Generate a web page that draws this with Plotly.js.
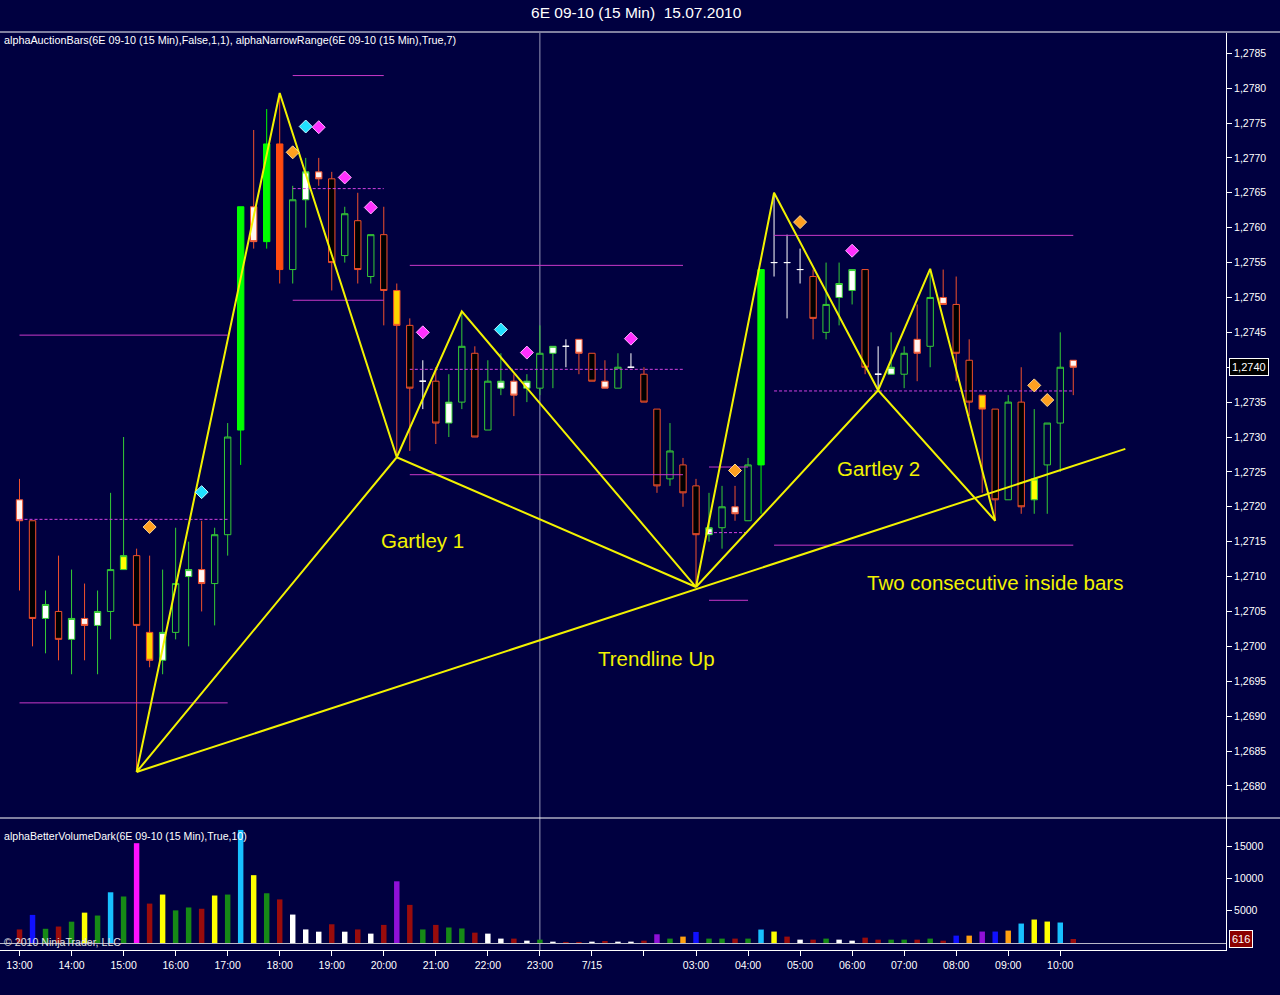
<!DOCTYPE html>
<html><head><meta charset="utf-8">
<script src="https://cdn.plot.ly/plotly-3.0.1.min.js"></script>
<style>html,body{margin:0;padding:0;background:#000040;}#chart{width:1280px;height:995px;}</style>
</head><body><div id="chart"></div>
<script>
// ---- price bars (15 min), index 0 = 13:00 on 14.07.2010 ----
const openP  = [1.2721,1.2718,1.2704,1.2705,1.2701,1.2704,1.2703,1.2705,1.2711,1.2713,
                1.2702,1.2698,1.2702,1.2710,1.2711,1.2709,1.2716,1.2731,1.2763,1.2758,
                1.2772,1.2754,1.2764,1.2768,1.2767,1.2756,1.2761,1.2753,1.2759,1.2751,
                1.2746,1.2738,1.2738,1.2732,1.2735,1.2742,1.2731,1.2737,1.2738,1.2737,
                1.2737,1.2742,1.2743,1.2744,1.2742,1.2738,1.2737,1.2740,1.2739,1.2734,
                1.2724,1.2726,1.2723,1.2716,1.2717,1.2720,1.2718,1.2726,1.2755,1.2755,
                1.2754,1.2753,1.2745,1.2750,1.2751,1.2754,1.2739,1.2739,1.2739,1.2744,
                1.2743,1.2750,1.2749,1.2741,1.2736,1.2734,1.2721,1.2735,1.2721,1.2726,
                1.2732,1.2741];
const highP  = [1.2724,1.2718,1.2708,1.2713,1.2711,1.2709,1.2708,1.2722,1.2730,1.2714,
                1.2713,1.2711,1.2717,1.2715,1.2718,1.2717,1.2732,1.2763,1.2774,1.2777,
                1.2779,1.2766,1.2770,1.2770,1.2768,1.2763,1.2765,1.2759,1.2763,1.2752,
                1.2747,1.2741,1.2740,1.2739,1.2748,1.2743,1.2741,1.2742,1.2739,1.2739,
                1.2746,1.2743,1.2744,1.2744,1.2742,1.2741,1.2742,1.2742,1.2740,1.2734,
                1.2732,1.2727,1.2724,1.2722,1.2723,1.2723,1.2727,1.2754,1.2765,1.2759,
                1.2757,1.2754,1.2755,1.2755,1.2754,1.2754,1.2743,1.2745,1.2743,1.2749,
                1.2754,1.2754,1.2753,1.2744,1.2736,1.2734,1.2736,1.2740,1.2734,1.2732,
                1.2745,1.2741];
const lowP   = [1.2708,1.2700,1.2699,1.2698,1.2696,1.2698,1.2696,1.2701,1.2711,1.2682,
                1.2697,1.2696,1.2701,1.2700,1.2705,1.2703,1.2713,1.2726,1.2757,1.2757,
                1.2752,1.2752,1.2760,1.2766,1.2751,1.2755,1.2752,1.2752,1.2746,1.2727,
                1.2728,1.2734,1.2729,1.2730,1.2734,1.2730,1.2731,1.2736,1.2733,1.2735,
                1.2736,1.2737,1.2740,1.2739,1.2738,1.2737,1.2737,1.2740,1.2735,1.2722,
                1.2723,1.2720,1.27085,1.2715,1.2714,1.2718,1.2718,1.2719,1.2753,1.2747,
                1.2752,1.2744,1.2744,1.2746,1.2749,1.2739,1.2737,1.2739,1.2737,1.2738,
                1.2740,1.2749,1.2738,1.2733,1.2722,1.2718,1.2721,1.2719,1.2719,1.2719,
                1.2725,1.2736];
const closeP = [1.2718,1.2704,1.2706,1.2701,1.2704,1.2703,1.2705,1.2711,1.2713,1.2703,
                1.2698,1.2702,1.2709,1.2711,1.2709,1.2716,1.2730,1.2763,1.2758,1.2772,
                1.2754,1.2764,1.2768,1.2767,1.2755,1.2762,1.2754,1.2759,1.2751,1.2746,
                1.2737,1.2738,1.2732,1.2735,1.2743,1.2730,1.2738,1.2738,1.2736,1.2738,
                1.2742,1.2743,1.2743,1.2742,1.2738,1.2737,1.2740,1.2740,1.2735,1.2723,
                1.2728,1.2722,1.2716,1.2717,1.2720,1.2719,1.2726,1.2754,1.2755,1.2755,
                1.2754,1.2747,1.2749,1.2752,1.2754,1.2740,1.2739,1.2740,1.2742,1.2742,
                1.2750,1.2749,1.2742,1.2735,1.2734,1.2721,1.2735,1.2720,1.2724,1.2732,
                1.2740,1.2740];
// bar painting from alphaAuctionBars
const barStyle = ['WR','BR','WG','BR','WG','WR','WG','HG','YG','BR',
                  'YR','WG','HG','WG','WR','HG','HG','SG','WR','SG',
                  'SR','HG','WG','WR','BR','HG','BR','HG','BR','YR',
                  'BR','WD','BR','WG','HG','BR','HG','WG','WR','WG',
                  'HG','WG','WD','WR','BR','WR','HG','WD','BR','BR',
                  'HG','BR','BR','WG','HG','WR','HG','SG','WD','WD',
                  'WD','BR','HG','WG','WG','BR','WD','WG','HG','WR',
                  'HG','WR','BR','BR','YR','BR','HG','BR','YG','HG',
                  'HG','WR'];
// ---- volume ----
const volume = [2100,4350,2200,2550,3300,4700,4250,7850,7200,15450,
                6100,7500,5050,5500,5300,7350,7500,17500,10500,7700,
                6750,4400,2100,1750,2900,1750,2100,1450,2800,9550,
                5900,2100,2800,2400,2250,1600,1450,680,680,360,
                520,210,160,160,210,310,210,210,360,1350,
                680,990,1710,680,680,680,680,2080,1770,990,
                520,520,680,520,360,830,520,520,520,520,
                680,360,1140,1140,1770,1770,1920,3010,3630,3320,
                3170,616];
const volClass = ['DR','BL','GR','DR','GR','YE','GR','CY','GR','MA',
                  'DR','YE','GR','GR','DR','YE','GR','CY','YE','GR',
                  'DR','WH','WH','WH','DR','WH','DR','WH','DR','PU',
                  'DR','GR','DR','GR','GR','DR','WH','WH','DR','WH',
                  'GR','WH','DR','DR','WH','DR','WH','WH','DR','PU',
                  'GR','OR','BL','GR','GR','DR','GR','CY','YE','DR',
                  'WH','DR','GR','WH','WH','DR','DR','GR','GR','DR',
                  'GR','DR','BL','OR','PU','BL','OR','CY','YE','YE',
                  'CY','DR'];
// ---- axis ticks ----
const timeTickIdx  = [0,4,8,12,16,20,24,28,32,36,40,44,48,52,56,60,64,68,72,76,80];
const timeTickText = ['13:00','14:00','15:00','16:00','17:00','18:00','19:00','20:00','21:00','22:00','23:00','7/15','','03:00','04:00','05:00','06:00','07:00','08:00','09:00','10:00'];
const priceTicks = [1.2680,1.2685,1.2690,1.2695,1.2700,1.2705,1.2710,1.2715,1.2720,1.2725,1.2730,1.2735,1.2740,1.2745,1.2750,1.2755,1.2760,1.2765,1.2770,1.2775,1.2780,1.2785];
const priceTickText = ['1,2680','1,2685','1,2690','1,2695','1,2700','1,2705','1,2710','1,2715','1,2720','1,2725','1,2730','1,2735','','1,2745','1,2750','1,2755','1,2760','1,2765','1,2770','1,2775','1,2780','1,2785'];
const volTicks = [5000,10000,15000];
const volTickText = ['5000','10000','15000'];
// ---- narrow range levels: [fromBar, toBar, price, dashed] ----
const nrFrom  = [0,0,0, 21,21,21, 30,30,30, 53,53,53, 58,58,58];
const nrTo    = [16,16,16, 28,28,28, 51,51,51, 56,56,56, 81,81,81];
const nrPrice = [1.27446,1.27182,1.26919, 1.27818,1.27656,1.27496, 1.27546,1.27397,1.27246, 1.27257,1.27163,1.27066, 1.27589,1.27366,1.27145];
const nrDash  = [0,1,0, 0,1,0, 0,1,0, 0,1,0, 0,1,0];
// ---- signal diamonds ----
const dOrangeX = [10,21,55,60,78,79];
const dOrangeY = [1.27171,1.27708,1.27252,1.27608,1.27374,1.27353];
const dCyanX = [14,22,37];
const dCyanY = [1.27221,1.27745,1.27454];
const dMagX = [23,25,27,31,39,47,64];
const dMagY = [1.27744,1.27672,1.27629,1.27450,1.27421,1.27441,1.27567];
// ---- drawn patterns ----
const g1X = [9,20,29,34,52,29,9];
const g1Y = [1.2682,1.27793,1.27271,1.2748,1.27085,1.27271,1.2682];
const g2X = [52,58,66,70,75,66,52];
const g2Y = [1.27085,1.2765,1.27367,1.27541,1.2718,1.27367,1.27085];
const trendX = [9,85];
const trendY = [1.2682,1.27283];
const labelText = ['Gartley 1','Trendline Up','Gartley 2','Two consecutive inside bars'];
const labelX = [30.94,49.0,66.0,74.98];
const labelY = [1.27152,1.26983,1.27255,1.27092];
const lastPrice = 1.2740, lastVolume = 616;

// ---- styling ----
const BG = '#000040';
const FONT = 'Liberation Sans, Arial, sans-serif';
const RED = '#f0502c', GREEN = '#35cc35';
const STY = {
  HG:{line:GREEN, fill:BG}, WG:{line:GREEN, fill:'#ffffff'},
  BR:{line:RED, fill:'#000000'}, WR:{line:RED, fill:'#fff4f0'},
  SG:{line:'#00ff00', fill:'#00ff00'}, SR:{line:'#ff4a10', fill:'#ff4a10'},
  YG:{line:GREEN, fill:'#ffff00'}, YR:{line:RED, fill:'#ffd400'},
  WD:{line:'#ffffff', fill:'#ffffff'}
};
const VCOL = {DR:'#9a0c0c', BL:'#1010ff', GR:'#168a16', YE:'#ffff00', CY:'#18c0ff', MA:'#ff10ff', WH:'#ffffff', PU:'#9010d8', OR:'#ffa010'};

const idx = openP.map((_, i) => i);
const traces = [];

// narrow range lines
['solid','dash'].forEach((kind, k) => {
  const xs = [], ys = [];
  nrFrom.forEach((f, i) => {
    if (nrDash[i] === k) { xs.push(f, nrTo[i], null); ys.push(nrPrice[i], nrPrice[i], null); }
  });
  traces.push({type:'scatter', mode:'lines', x:xs, y:ys, xaxis:'x', yaxis:'y',
    line:{color: k ? '#d040e0' : '#c838c8', width:1, dash: k ? '3px,2px' : 'solid'}, hoverinfo:'skip'});
});

// candles by style
Object.keys(STY).forEach(s => {
  const sel = idx.filter(i => barStyle[i] === s);
  if (!sel.length) return;
  const dir = {line:{color:STY[s].line, width:1}, fillcolor:STY[s].fill};
  traces.push({type:'candlestick', x:sel, open:sel.map(i=>openP[i]), high:sel.map(i=>highP[i]),
    low:sel.map(i=>lowP[i]), close:sel.map(i=>closeP[i]), increasing:dir, decreasing:dir,
    whiskerwidth:0, xaxis:'x', yaxis:'y', hoverinfo:'skip'});
});

// zigzags
[[g1X,g1Y],[g2X,g2Y],[trendX,trendY]].forEach(([xs,ys]) => {
  traces.push({type:'scatter', mode:'lines', x:xs, y:ys, xaxis:'x', yaxis:'y',
    line:{color:'#f2f200', width:2}, hoverinfo:'skip'});
});

// diamonds
[[dOrangeX,dOrangeY,'#ffa020','#ffd890'],[dCyanX,dCyanY,'#20e0ff','#c0f8ff'],[dMagX,dMagY,'#ff30ff','#ffb0ff']].forEach(([xs,ys,c,lc]) => {
  traces.push({type:'scatter', mode:'markers', x:xs, y:ys, xaxis:'x', yaxis:'y',
    marker:{symbol:'diamond', size:10, color:c, line:{color:lc, width:1}}, hoverinfo:'skip'});
});

// volume
traces.push({type:'bar', x:idx, y:volume, xaxis:'x', yaxis:'y2', width:0.42,
  marker:{color:volClass.map(c => VCOL[c]), line:{width:0}}, hoverinfo:'skip'});

const PTOP = 33, PBOT = 950, PH = PBOT - PTOP;
const splitPaper = (PBOT - 818) / PH;
const py = (pix) => (PBOT - pix) / PH;

const annotations = labelText.map((t, i) => ({
  text:t, x:labelX[i], y:labelY[i], xref:'x', yref:'y', showarrow:false,
  font:{family:FONT, size:20.5, color:'#f2f200'}
}));
annotations.push(
  {text:'alphaAuctionBars(6E 09-10 (15 Min),False,1,1), alphaNarrowRange(6E 09-10 (15 Min),True,7)',
   xref:'paper', yref:'paper', x:2/1226, y:py(40), xanchor:'left', yanchor:'middle', showarrow:false,
   font:{family:FONT, size:10.8, color:'#ffffff'}},
  {text:'alphaBetterVolumeDark(6E 09-10 (15 Min),True,10)',
   xref:'paper', yref:'paper', x:2/1226, y:py(836), xanchor:'left', yanchor:'middle', showarrow:false,
   font:{family:FONT, size:10.6, color:'#ffffff'}},
  {text:'© 2010 NinjaTrader, LLC',
   xref:'paper', yref:'paper', x:2/1226, y:py(942), xanchor:'left', yanchor:'middle', showarrow:false,
   font:{family:FONT, size:10.6, color:'#e0e0e0'}},
  {text:lastPrice.toFixed(4).replace('.', ','), xref:'paper', yref:'y', x:1, y:lastPrice, xanchor:'left', xshift:3,
   showarrow:false, bgcolor:'#000000', bordercolor:'#ffffff', borderwidth:1, borderpad:2,
   font:{family:FONT, size:11, color:'#ffffff'}},
  {text:String(lastVolume), xref:'paper', yref:'y2', x:1, y:lastVolume, xanchor:'left', xshift:3,
   showarrow:false, bgcolor:'#8b0000', bordercolor:'#ffffff', borderwidth:1, borderpad:2,
   font:{family:FONT, size:11, color:'#ffffff'}}
);

const tickFont = {family:FONT, size:10.5, color:'#ffffff'};
const layout = {
  width:1280, height:995,
  paper_bgcolor:BG, plot_bgcolor:BG,
  margin:{l:0, r:54, t:PTOP, b:995-PBOT, pad:0},
  showlegend:false, hovermode:false, dragmode:false,
  title:{text:'6E 09-10 (15 Min)\u00a0 15.07.2010', font:{family:FONT, size:15.5, color:'#ffffff'},
         x:0.497, xanchor:'center', y:1-13/995, yanchor:'middle'},
  xaxis:{range:[-1.5, 92.74], anchor:'y2', tickmode:'array', tickvals:timeTickIdx, ticktext:timeTickText,
         ticks:'outside', ticklen:5, tickcolor:'#ffffff', showline:true, linecolor:'#ffffff', linewidth:1,
         showgrid:false, zeroline:false, rangeslider:{visible:false}, tickfont:tickFont, fixedrange:true},
  yaxis:{domain:[splitPaper, 1], range:[1.26754, 1.27879], side:'right', anchor:'x', tickmode:'array',
         tickvals:priceTicks, ticktext:priceTickText, ticks:'outside', ticklen:5, tickcolor:'#ffffff',
         showline:true, linecolor:'#ffffff', showgrid:false, zeroline:false, tickfont:tickFont, fixedrange:true},
  yaxis2:{domain:[0, splitPaper], range:[-1084, 19350], side:'right', anchor:'x', tickmode:'array',
         tickvals:volTicks, ticktext:volTickText, ticks:'outside', ticklen:5, tickcolor:'#ffffff',
         showline:true, linecolor:'#ffffff', showgrid:false, zeroline:true, zerolinecolor:'#b8b8c8',
         zerolinewidth:1, tickfont:tickFont, fixedrange:true},
  shapes:[
    {type:'line', xref:'paper', yref:'paper', x0:0, x1:1280/1226, y0:py(32), y1:py(32), line:{color:'#ffffff', width:1}},
    {type:'line', xref:'paper', yref:'paper', x0:0, x1:1280/1226, y0:splitPaper, y1:splitPaper, line:{color:'#ffffff', width:1}},
    {type:'line', xref:'x', yref:'paper', x0:40, x1:40, y0:0, y1:1, layer:'below', line:{color:'#9898b8', width:1}}
  ],
  annotations:annotations
};

Plotly.newPlot('chart', traces, layout, {displayModeBar:false, staticPlot:true});
</script>
</body></html>
